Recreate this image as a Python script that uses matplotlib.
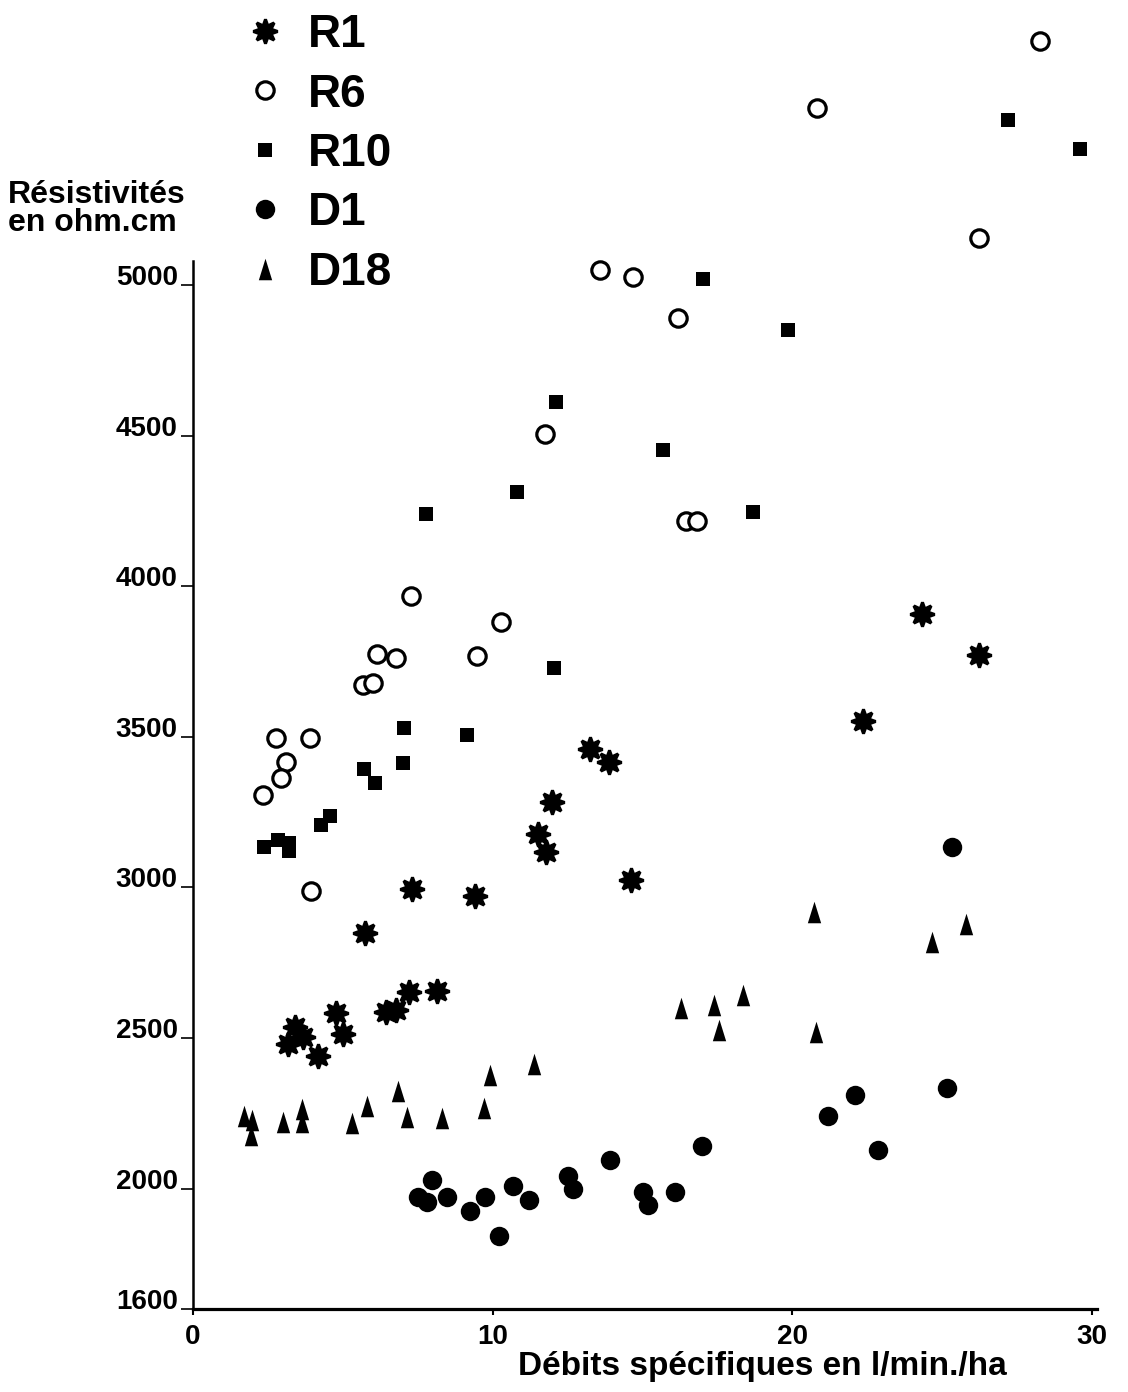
import matplotlib
matplotlib.use("Agg")
import matplotlib.pyplot as plt
import numpy as np

plt.rcParams['font.family'] = ['Liberation Sans', 'DejaVu Sans']
plt.rcParams['font.weight'] = 'bold'

# debits (l/min/ha) and resistivities (ohm.cm) per station
r1_x = [24.32, 26.23, 22.36, 13.25, 13.88, 11.98, 11.51, 11.78, 14.61, 7.31, 9.41, 5.74,
        8.14, 7.2, 6.77, 6.44, 4.77, 5.0, 3.4, 3.67, 3.17, 4.17]
r1_y = [3908, 3772, 3553, 3460, 3417, 3284, 3178, 3118, 3026, 2996, 2972, 2850,
        2657, 2654, 2594, 2587, 2584, 2514, 2538, 2504, 2481, 2441]

r6_x = [28.26, 20.82, 26.23, 13.58, 14.68, 16.18, 11.74, 16.45, 16.82, 7.27, 10.28, 9.48,
        6.14, 6.77, 5.67, 6.01, 2.77, 3.9, 3.1, 2.94, 2.34, 3.94]
r6_y = [5810, 5588, 5156, 5050, 5027, 4891, 4506, 4217, 4217, 3968, 3882, 3769,
        3776, 3762, 3673, 3679, 3497, 3497, 3417, 3364, 3308, 2989]

r10_x = [27.19, 29.6, 17.02, 19.85, 12.11, 15.68, 10.81, 7.77, 18.69, 12.05, 7.04, 9.14,
         5.71, 7.0, 6.07, 4.57, 4.27, 2.37, 2.84, 3.2, 3.2]
r10_y = [5548, 5452, 5020, 4851, 4612, 4453, 4313, 4240, 4247, 3729, 3530, 3507,
         3394, 3414, 3348, 3238, 3208, 3135, 3158, 3148, 3122]

d1_x = [7.97, 7.51, 7.81, 8.48, 9.24, 9.74, 10.68, 11.21, 10.21, 12.51, 12.68, 13.91,
        15.02, 15.18, 16.08, 16.98, 21.19, 22.09, 22.86, 25.16, 25.33]
d1_y = [2027, 1973, 1957, 1973, 1927, 1973, 2010, 1963, 1841, 2043, 2000, 2096,
        1987, 1947, 1987, 2143, 2242, 2312, 2129, 2335, 3135]

d18_x = [1.7, 1.97, 1.94, 3.0, 3.64, 3.64, 5.31, 5.81, 6.84, 7.14, 8.31, 9.71, 9.91, 11.38,
         16.28, 17.38, 17.55, 18.35, 20.72, 20.79, 24.66, 25.79]
d18_y = [2242, 2229, 2179, 2222, 2265, 2222, 2219, 2275, 2325, 2239, 2236, 2269, 2378, 2415,
         2601, 2611, 2528, 2644, 2920, 2521, 2820, 2877]

y_ticks = [1600, 2000, 2500, 3000, 3500, 4000, 4500, 5000]
x_ticks = [0, 10, 20, 30]

# tall narrow triangle
tri = [(0, 1), (-0.62, -1), (0.62, -1), (0, 1)]

fig = plt.figure(figsize=(11.28, 13.92), dpi=100)
ax = fig.add_axes([0.1711, 0.0596, 0.8011, 0.9303])

ax.plot(r1_x, r1_y, ls='none', marker=(8, 1, 0), ms=17.5, mfc='black', mec='black',
        mew=2.2, label='R1')
ax.plot(r6_x, r6_y, ls='none', marker='o', ms=12.5, mfc='white', mec='black',
        mew=2.3, label='R6')
ax.plot(r10_x, r10_y, ls='none', marker='s', ms=10.5, mfc='black', mec='black',
        mew=0, label='R10')
ax.plot(d1_x, d1_y, ls='none', marker='o', ms=14, mfc='black', mec='black',
        mew=0, label='D1')
ax.plot(d18_x, d18_y, ls='none', marker=tri, ms=15.5, mfc='black', mec='black',
        mew=0, label='D18')

ax.set_xlim(0, 30.15)
ax.set_ylim(1600, 5900)

for s in ['top', 'right']:
    ax.spines[s].set_visible(False)
ax.spines['left'].set_bounds(1600, 5080)
ax.spines['left'].set_linewidth(1.8)
ax.spines['bottom'].set_linewidth(2.3)

ax.set_yticks(y_ticks)
ax.set_yticklabels([str(v) for v in y_ticks], fontsize=20, fontweight='bold')
ax.set_xticks(x_ticks)
ax.set_xticklabels([str(v) for v in x_ticks], fontsize=20, fontweight='bold')
ax.tick_params(axis='y', direction='out', length=9, width=1.2, pad=2)
ax.tick_params(axis='x', direction='out', length=4, width=1.5, pad=7)
for lab in ax.get_yticklabels():
    lab.set_va('baseline')

fig.text(0.007, 1 - 180 / 1392, 'Résistivités\nen ohm.cm', ha='left', va='top',
         fontsize=23, fontweight='bold', linespacing=0.92)
fig.text(762 / 1128, 1 - 1366 / 1392, 'Débits spécifiques en l/min./ha',
         ha='center', va='center', fontsize=24, fontweight='bold')

ax.legend(loc='upper left', bbox_to_anchor=(0.194, 1.007), bbox_transform=fig.transFigure,
          frameon=False, labelspacing=0.335, handlelength=1.0,
          handletextpad=0.45, borderpad=0.0, numpoints=1,
          prop={'weight': 'bold', 'size': 33})

fig.savefig('out.png', dpi=100, facecolor='white')
